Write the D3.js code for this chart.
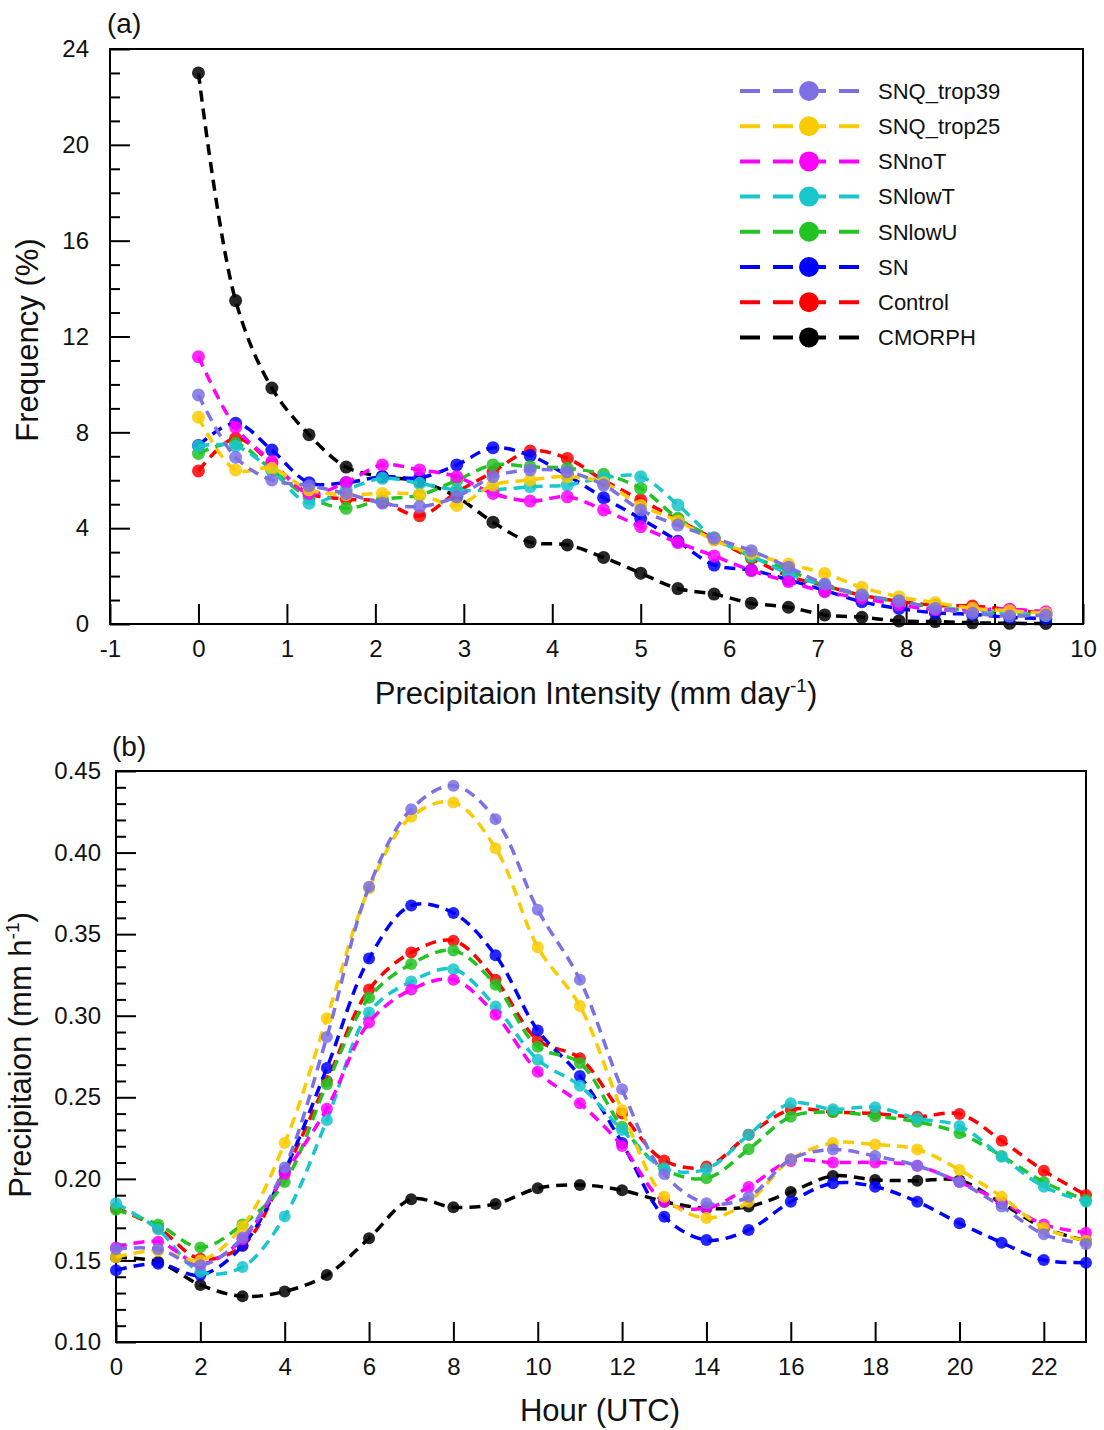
<!DOCTYPE html>
<html>
<head>
<meta charset="utf-8">
<script src="https://d3js.org/d3.v7.min.js"></script>
<style>
  body { margin: 0; background: #fff; }
  svg { font-family: "Liberation Sans", Arial, Helvetica, sans-serif; }
</style>
</head>
<body>
<div id="chart"></div>
<script>
// Step 1: data
//= ================================
var seriesNames = ["SNQ_trop39", "SNQ_trop25", "SNnoT", "SNlowT", "SNlowU", "SN", "Control", "CMORPH"];
var seriesColors = ["#7d70e4", "#f9cb00", "#ff00ff", "#18c6cc", "#22c322", "#0000ff", "#ff0000", "#000000"];

// panel (a): frequency (%) per intensity bin
var intensityBins = [0, 0.42, 0.83, 1.25, 1.67, 2.08, 2.5, 2.92, 3.33, 3.75, 4.17, 4.58,
  5, 5.42, 5.83, 6.25, 6.67, 7.08, 7.5, 7.92, 8.33, 8.75, 9.17, 9.58];
var freqTrop39 = [9.56, 6.96, 6.01, 5.77, 5.45, 5.04, 4.9, 5.31, 6.15, 6.43, 6.36, 5.8, 4.76, 4.13, 3.58, 3.06, 2.37, 1.67, 1.21, 0.97, 0.65, 0.45, 0.33, 0.37];
var freqTrop25 = [8.63, 6.43, 6.5, 5.6, 5.4, 5.45, 5.4, 4.95, 5.8, 6.01, 6.15, 5.9, 4.95, 4.3, 3.5, 2.95, 2.5, 2.11, 1.53, 1.14, 0.89, 0.65, 0.55, 0.45];
var freqNoT = [11.16, 8.21, 6.78, 5.45, 5.91, 6.64, 6.43, 6.15, 5.45, 5.13, 5.31, 4.76, 4.06, 3.4, 2.84, 2.23, 1.77, 1.35, 1.08, 0.8, 0.6, 0.6, 0.62, 0.51];
var freqLowT = [7.43, 7.43, 6.4, 5.04, 5.6, 6.08, 5.87, 5.59, 5.6, 5.73, 5.8, 6.1, 6.15, 4.97, 3.6, 2.85, 2.1, 1.6, 1.25, 0.9, 0.7, 0.55, 0.45, 0.35];
var freqLowU = [7.12, 7.54, 6.43, 5.3, 4.83, 5.2, 5.38, 6.0, 6.64, 6.56, 6.5, 6.25, 5.66, 4.41, 3.58, 2.81, 2.25, 1.6, 1.2, 0.92, 0.7, 0.55, 0.45, 0.38];
var freqSN = [7.45, 8.38, 7.26, 5.9, 5.9, 6.15, 6.1, 6.64, 7.36, 7.03, 6.2, 5.27, 4.4, 3.45, 2.46, 2.25, 1.84, 1.4, 0.93, 0.65, 0.47, 0.4, 0.28, 0.23];
var freqControl = [6.39, 7.75, 6.7, 5.45, 5.22, 5.1, 4.52, 5.5, 6.35, 7.22, 6.91, 6.0, 5.18, 4.35, 3.55, 2.75, 2.0, 1.6, 1.2, 0.95, 0.78, 0.75, 0.6, 0.45];
var freqCMORPH = [23.0, 13.5, 9.85, 7.9, 6.55, 6.15, 5.95, 5.3, 4.25, 3.42, 3.3, 2.78, 2.12, 1.48, 1.25, 0.87, 0.7, 0.38, 0.28, 0.13, 0.1, 0.05, 0.03, 0.02];

// panel (b): precipitation (mm/h) per hour
var hours = [0, 1, 2, 3, 4, 5, 6, 7, 8, 9, 10, 11, 12, 13, 14, 15, 16, 17, 18, 19, 20, 21, 22, 23];
var precTrop39 = [0.157, 0.157, 0.147, 0.164, 0.207, 0.287, 0.379, 0.4266, 0.441, 0.4205, 0.365, 0.322, 0.255, 0.203, 0.185, 0.189, 0.212, 0.218, 0.214, 0.208, 0.198, 0.183, 0.166, 0.160];
var precTrop25 = [0.152, 0.156, 0.150, 0.171, 0.222, 0.2985, 0.378, 0.422, 0.4307, 0.4027, 0.342, 0.306, 0.242, 0.189, 0.176, 0.186, 0.212, 0.222, 0.221, 0.218, 0.2055, 0.189, 0.170, 0.162];
var precNoT = [0.158, 0.1615, 0.148, 0.163, 0.203, 0.243, 0.2958, 0.316, 0.322, 0.3006, 0.2657, 0.2463, 0.2202, 0.186, 0.182, 0.195, 0.211, 0.210, 0.210, 0.208, 0.198, 0.186, 0.172, 0.167];
var precLowT = [0.185, 0.169, 0.143, 0.146, 0.177, 0.236, 0.302, 0.321, 0.3285, 0.3056, 0.273, 0.257, 0.230, 0.2065, 0.206, 0.227, 0.2463, 0.2427, 0.2439, 0.237, 0.2324, 0.2136, 0.1952, 0.186];
var precLowU = [0.181, 0.172, 0.158, 0.172, 0.198, 0.258, 0.311, 0.3317, 0.340, 0.319, 0.281, 0.271, 0.232, 0.206, 0.2004, 0.2181, 0.2381, 0.241, 0.2384, 0.235, 0.228, 0.214, 0.198, 0.187];
var precSN = [0.144, 0.148, 0.141, 0.159, 0.205, 0.268, 0.335, 0.3675, 0.363, 0.337, 0.291, 0.263, 0.222, 0.1768, 0.1625, 0.1687, 0.186, 0.1973, 0.1952, 0.186, 0.1728, 0.1609, 0.1503, 0.1486];
var precControl = [0.182, 0.170, 0.151, 0.159, 0.204, 0.260, 0.316, 0.3387, 0.346, 0.322, 0.285, 0.274, 0.240, 0.2112, 0.2075, 0.227, 0.2424, 0.241, 0.240, 0.238, 0.2398, 0.2234, 0.205, 0.1901];
var precCMORPH = [0.152, 0.149, 0.135, 0.128, 0.131, 0.141, 0.1636, 0.1875, 0.1826, 0.1846, 0.1942, 0.1963, 0.193, 0.186, 0.182, 0.183, 0.192, 0.2018, 0.1993, 0.1989, 0.199, 0.185, 0.170, 0.162];

// tick labels
var xTicksA = [-1, 0, 1, 2, 3, 4, 5, 6, 7, 8, 9, 10];
var yTicksA = [0, 4, 8, 12, 16, 20, 24];
var yMinorA = [1, 2, 3, 5, 6, 7, 9, 10, 11, 13, 14, 15, 17, 18, 19, 21, 22, 23];
var xTicksB = [0, 2, 4, 6, 8, 10, 12, 14, 16, 18, 20, 22];
var yTicksB = [0.10, 0.15, 0.20, 0.25, 0.30, 0.35, 0.40, 0.45];
var yMinorB = [0.11, 0.12, 0.13, 0.14, 0.16, 0.17, 0.18, 0.19, 0.21, 0.22, 0.23, 0.24,
  0.26, 0.27, 0.28, 0.29, 0.31, 0.32, 0.33, 0.34, 0.36, 0.37, 0.38, 0.39, 0.41, 0.42, 0.43, 0.44];

var freqSeries = [freqTrop39, freqTrop25, freqNoT, freqLowT, freqLowU, freqSN, freqControl, freqCMORPH];
var precSeries = [precTrop39, precTrop25, precNoT, precLowT, precLowU, precSN, precControl, precCMORPH];

// Step 2: svg + layout
//= ================================
var svgWidth = 1104;
var svgHeight = 1430;

var panelA = { left: 110, right: 1083, top: 49, bottom: 624 };
var panelB = { left: 116, right: 1086, top: 771, bottom: 1342 };

var svg = d3.select("#chart")
  .append("svg")
  .attr("width", svgWidth)
  .attr("height", svgHeight);

// Step 3: scales
var xA = d3.scaleLinear().domain([-1, 10]).range([panelA.left, panelA.right]);
var yA = d3.scaleLinear().domain([0, 24]).range([panelA.bottom, panelA.top]);
var xB = d3.scaleLinear().domain([0, 23]).range([panelB.left, panelB.right]);
var yB = d3.scaleLinear().domain([0.10, 0.45]).range([panelB.bottom, panelB.top]);

// plain hyphen for negatives, like the original
var plainInt = d => String(d);

// Step 4: axes (ticks point inward, frame drawn as a box)
function drawAxes(p, x, y, xTicks, yTicks, yMinor, xFmt, yFmt, yPad) {
  var g = svg.append("g");

  g.append("g")
    .attr("transform", `translate(0, ${p.bottom})`)
    .call(d3.axisBottom(x).tickValues(xTicks).tickSize(-20).tickPadding(16).tickFormat(xFmt))
    .call(s => s.select(".domain").remove());

  g.append("g")
    .attr("transform", `translate(${p.left}, 0)`)
    .call(d3.axisLeft(y).tickValues(yTicks).tickSize(-20).tickPadding(yPad).tickFormat(yFmt))
    .call(s => s.select(".domain").remove());

  g.append("g")
    .attr("transform", `translate(${p.left}, 0)`)
    .call(d3.axisLeft(y).tickValues(yMinor).tickSize(-10).tickFormat(""))
    .call(s => s.select(".domain").remove());

  g.selectAll(".tick line").attr("stroke", "#000").attr("stroke-width", 2);
  g.selectAll(".tick text").attr("fill", "#111").attr("font-size", 24);
  g.selectAll("g").attr("font-family", null).attr("font-size", null);

  g.append("rect")
    .attr("x", p.left).attr("y", p.top)
    .attr("width", p.right - p.left).attr("height", p.bottom - p.top)
    .attr("fill", "none").attr("stroke", "#000").attr("stroke-width", 2);
}

drawAxes(panelA, xA, yA, xTicksA, yTicksA, yMinorA, plainInt, plainInt, 21);
drawAxes(panelB, xB, yB, xTicksB, yTicksB, yMinorB, plainInt, d3.format(".2f"), 15);

// Step 5: lines and markers (CMORPH first so the model runs sit on top)
function drawSeries(xs, seriesList, x, y, r) {
  var line = d3.line()
    .x((d, i) => x(xs[i]))
    .y(d => y(d))
    .curve(d3.curveCatmullRom.alpha(0.5));

  for (var k = seriesList.length - 1; k >= 0; k--) {
    var g = svg.append("g");
    g.append("path")
      .datum(seriesList[k])
      .attr("d", line)
      .attr("fill", "none")
      .attr("stroke", seriesColors[k])
      .attr("stroke-width", 3.5)
      .attr("stroke-dasharray", "11,7");
    g.selectAll("circle")
      .data(seriesList[k])
      .enter()
      .append("circle")
      .attr("cx", (d, i) => x(xs[i]))
      .attr("cy", d => y(d))
      .attr("r", r)
      .attr("fill", seriesColors[k])
      .attr("opacity", 0.85);
  }
}

drawSeries(intensityBins, freqSeries, xA, yA, 6.5);
drawSeries(hours, precSeries, xB, yB, 6);

// Step 6: legend in panel (a)
var legend = svg.append("g");
seriesNames.forEach(function(name, i) {
  var ly = 91 + i * 35.2;
  legend.append("line")
    .attr("x1", 740).attr("x2", 860).attr("y1", ly).attr("y2", ly)
    .attr("stroke", seriesColors[i]).attr("stroke-width", 4)
    .attr("stroke-dasharray", "20,13");
  legend.append("circle")
    .attr("cx", 809).attr("cy", ly).attr("r", 10)
    .attr("fill", seriesColors[i]);
  legend.append("text")
    .attr("x", 878).attr("y", ly).attr("dy", "0.35em")
    .attr("font-size", 22).attr("fill", "#111")
    .text(name);
});

// Step 7: titles
svg.append("text").attr("x", 107).attr("y", 33).attr("font-size", 28).attr("fill", "#111").text("(a)");
svg.append("text").attr("x", 112).attr("y", 756).attr("font-size", 28).attr("fill", "#111").text("(b)");

var xTitleA = svg.append("text")
  .attr("x", 596).attr("y", 704).attr("text-anchor", "middle").attr("font-size", 31).attr("fill", "#111");
xTitleA.append("tspan").text("Precipitaion Intensity (mm day");
xTitleA.append("tspan").attr("font-size", 19).attr("dy", -12).text("-1");
xTitleA.append("tspan").attr("dy", 12).text(")");

svg.append("text")
  .attr("transform", "translate(38, 340) rotate(-90)")
  .attr("text-anchor", "middle").attr("font-size", 31).attr("fill", "#111")
  .text("Frequency (%)");

svg.append("text")
  .attr("x", 600).attr("y", 1421).attr("text-anchor", "middle").attr("font-size", 31).attr("fill", "#111")
  .text("Hour (UTC)");

var yTitleB = svg.append("text")
  .attr("transform", "translate(31, 1055) rotate(-90)")
  .attr("text-anchor", "middle").attr("font-size", 31).attr("fill", "#111");
yTitleB.append("tspan").text("Precipitaion (mm h");
yTitleB.append("tspan").attr("font-size", 19).attr("dy", -12).text("-1");
yTitleB.append("tspan").attr("dy", 12).text(")");
</script>
</body>
</html>
